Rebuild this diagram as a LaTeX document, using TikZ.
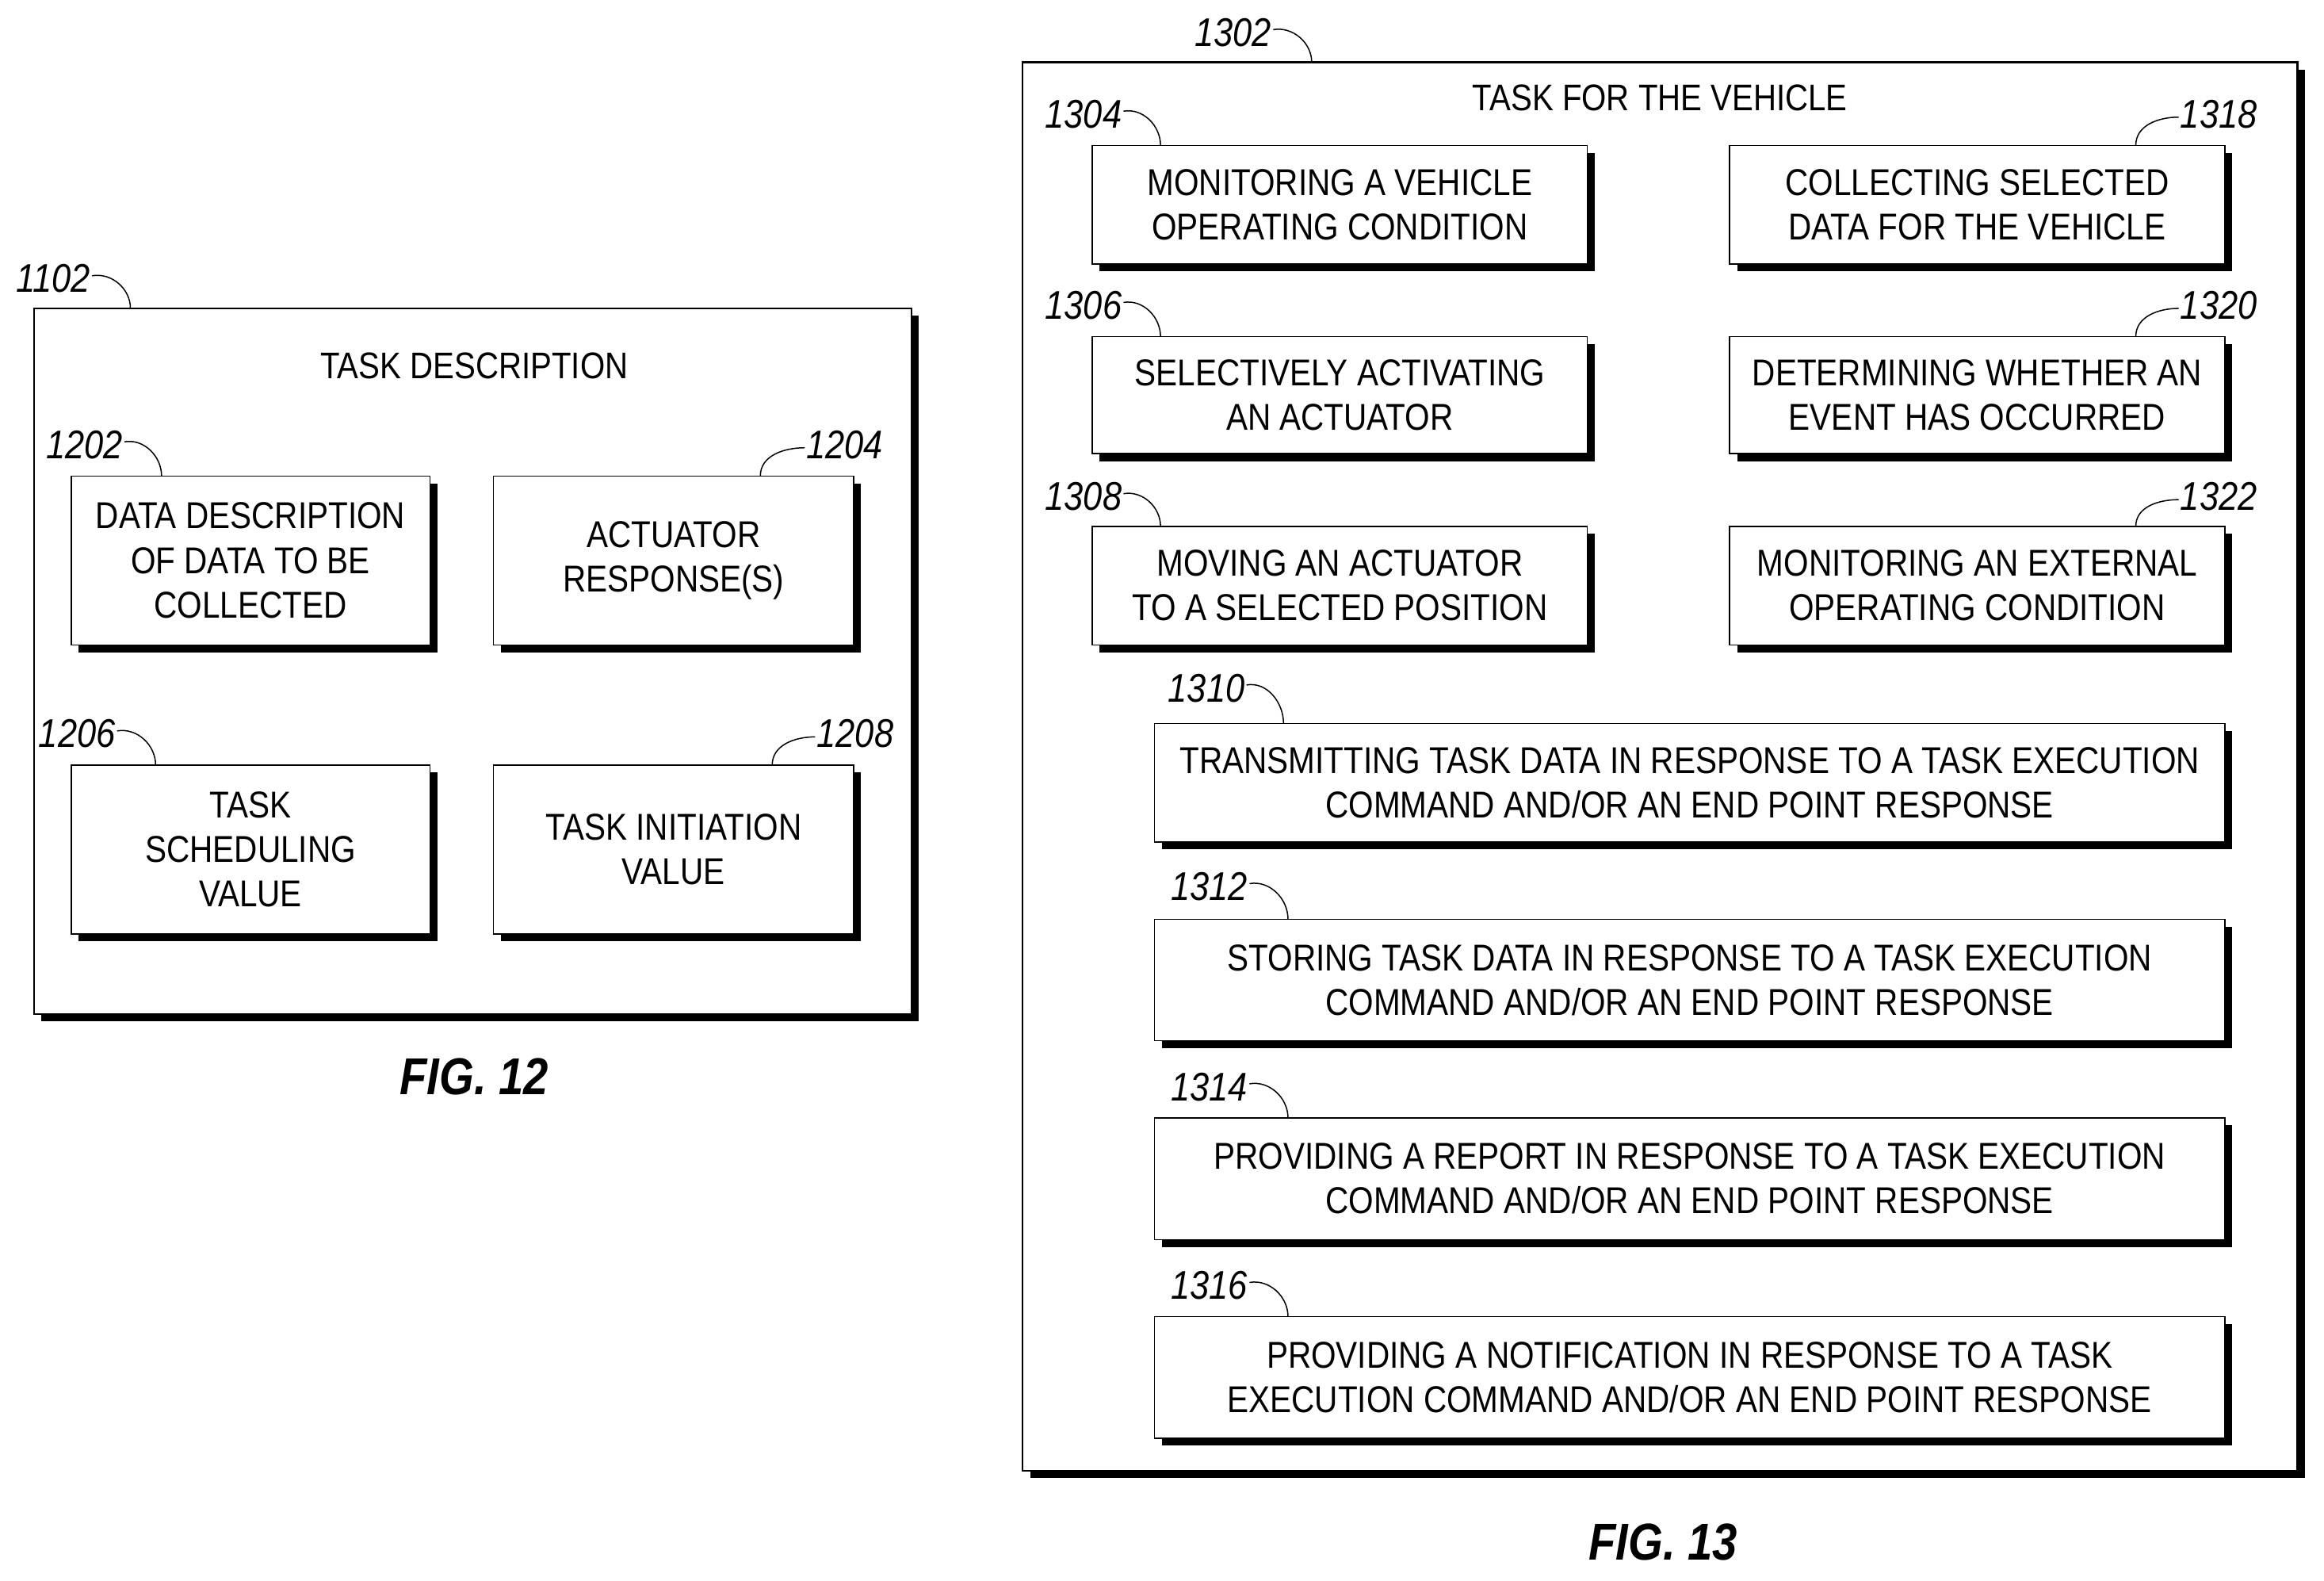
\documentclass[tikz,border=0pt]{standalone}
\usepackage{fontspec}
\setmainfont[FakeStretch=0.86]{Liberation Sans}
\usetikzlibrary{shadows}
\begin{document}
\begin{tikzpicture}[x=1pt,y=-1pt,
 box/.style={draw,thick,fill=white,align=center,inner sep=0pt,
   drop shadow={shadow xshift=5pt,shadow yshift=-5pt,fill=black,opacity=1},
   font=\fontsize{25.2}{30}\selectfont},
 lbl/.style={font=\fontsize{27}{30}\selectfont\itshape,inner sep=1pt},
 hook/.style={thick},
 ttl/.style={font=\fontsize{25}{28}\selectfont},
 fig/.style={font=\fontsize{35}{40}\selectfont\bfseries\itshape}]
\useasboundingbox (0,0) rectangle (1568,1066);
% FIG 12
\node[box,minimum width=592,minimum height=476,line width=1.2pt] (o12) at (319,446) {};
\node[ttl] (t12) at (320,247) {TASK DESCRIPTION};
\node[box,minimum width=242,minimum height=114] (b1202) at (169,378) {DATA DESCRIPTION\\OF DATA TO BE\\COLLECTED};
\node[box,minimum width=243,minimum height=114] (b1204) at (454.5,378) {ACTUATOR\\RESPONSE(S)};
\node[box,minimum width=242,minimum height=114] (b1206) at (169,573) {TASK\\SCHEDULING\\VALUE};
\node[box,minimum width=243,minimum height=114] (b1208) at (454.5,573) {TASK INITIATION\\VALUE};
\node[fig] (f12) at (320,726) {FIG. 12};
% FIG 13
\node[box,minimum width=860,minimum height=950,line width=1.2pt] (o13) at (1120,517) {};
\node[ttl] (t13) at (1120,66) {TASK FOR THE VEHICLE};
\node[box,minimum width=334,minimum height=80] (b1304) at (904,138) {MONITORING A VEHICLE\\OPERATING CONDITION};
\node[box,minimum width=334,minimum height=79] (b1306) at (904,266.5) {SELECTIVELY ACTIVATING\\AN ACTUATOR};
\node[box,minimum width=334,minimum height=80] (b1308) at (904,395) {MOVING AN ACTUATOR\\TO A SELECTED POSITION};
\node[box,minimum width=334,minimum height=80] (b1318) at (1334,138) {COLLECTING SELECTED\\DATA FOR THE VEHICLE};
\node[box,minimum width=334,minimum height=79] (b1320) at (1334,266.5) {DETERMINING WHETHER AN\\EVENT HAS OCCURRED};
\node[box,minimum width=334,minimum height=80] (b1322) at (1334,395) {MONITORING AN EXTERNAL\\OPERATING CONDITION};
\node[box,minimum width=722,minimum height=80] (b1310) at (1140,528) {TRANSMITTING TASK DATA IN RESPONSE TO A TASK EXECUTION\\COMMAND AND/OR AN END POINT RESPONSE};
\node[box,minimum width=722,minimum height=82] (b1312) at (1140,661) {STORING TASK DATA IN RESPONSE TO A TASK EXECUTION\\COMMAND AND/OR AN END POINT RESPONSE};
\node[box,minimum width=722,minimum height=82] (b1314) at (1140,795) {PROVIDING A REPORT IN RESPONSE TO A TASK EXECUTION\\COMMAND AND/OR AN END POINT RESPONSE};
\node[box,minimum width=722,minimum height=82] (b1316) at (1140,929) {PROVIDING A NOTIFICATION IN RESPONSE TO A TASK\\EXECUTION COMMAND AND/OR AN END POINT RESPONSE};
\node[fig] (f13) at (1122,1040) {FIG. 13};
% labels left-type
\foreach \n/\lx/\ly/\cx/\cy in {1102/36/188/88/208, 1202/57/300/109/321, 1206/52/495/105/516,
  1302/832/22/885/42, 1304/731/77/783/98, 1306/731/206/783/227, 1308/731/335/783/355,
  1310/814/464/866/488, 1312/816/598/869/620, 1314/816/733/869/754, 1316/816/867/869/888}{
  \node[lbl] (l\n) at (\lx,\ly) {\n};
  \coordinate (c\n) at (\cx,\cy);
  \draw[hook] ([yshift=2pt]l\n.east) to[out=10,in=90] (c\n);
}
% labels right-type
\foreach \n/\lx/\ly/\cx/\cy in {1204/570/300/513/321, 1208/577/495/521/516,
  1318/1497/77/1441/98, 1320/1497/206/1441/227, 1322/1497/335/1441/355}{
  \node[lbl] (l\n) at (\lx,\ly) {\n};
  \coordinate (c\n) at (\cx,\cy);
  \draw[hook] ([yshift=-2pt]l\n.west) to[out=180,in=90] (c\n);
}
\end{tikzpicture}
\end{document}
